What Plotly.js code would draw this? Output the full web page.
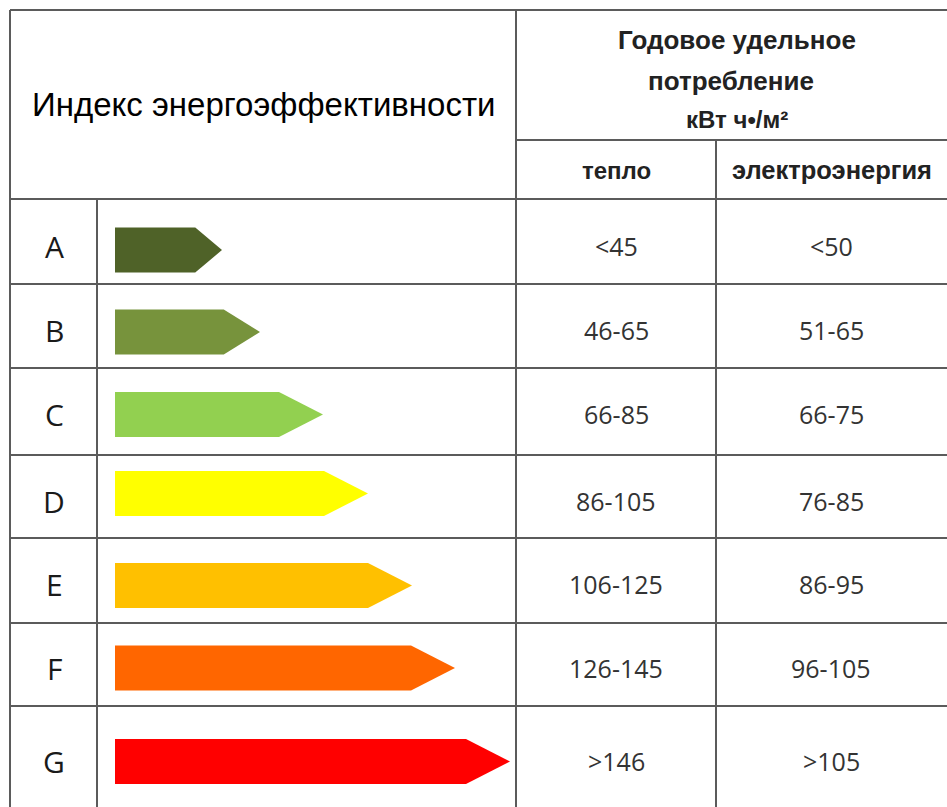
<!DOCTYPE html>
<html>
<head>
<meta charset="utf-8">
<script src="https://cdn.plot.ly/plotly-3.0.1.min.js"></script>
<style>html,body{margin:0;padding:0;background:#fff;} #chart{width:947px;height:807px;}</style>
</head>
<body>
<div id="chart"></div>
<script>
// ---- data ----
const classes = ['A', 'B', 'C', 'D', 'E', 'F', 'G'];
const heatRanges = ['&lt;45', '46-65', '66-85', '86-105', '106-125', '126-145', '&gt;146'];
const elecRanges = ['&lt;50', '51-65', '66-75', '76-85', '86-95', '96-105', '&gt;105'];
const arrowLengths = [107, 145, 208, 253, 297, 340, 395];
const headerLeft = 'Индекс энергоэффективности';
const headerRightLines = ['Годовое удельное', 'потребление', 'кВт ч•/м²'];
const subHeaders = ['тепло', 'электроэнергия'];

// ---- styles / layout constants ----
const classColors = ['#4f6228', '#77933c', '#92d050', '#ffff00', '#ffc000', '#ff6600', '#ff0000'];
const W = 947, H = 807;
const arrowY = [250, 332, 414.5, 493.5, 585.5, 668, 761.5];
const textY = [246, 330, 414, 501, 584, 668, 761];
const rowLines = [199, 284, 368, 455, 538, 623, 706];
const arrowX0 = 115, arrowHalf = 22.5;
const gridColor = '#5b5b5b';

const traces = classes.map((c, i) => {
  const L = arrowLengths[i];
  const h = Math.min(44, L * 0.25);
  const cy = arrowY[i];
  return {
    type: 'scatter', mode: 'lines', fill: 'toself',
    x: [arrowX0, arrowX0 + L - h, arrowX0 + L, arrowX0 + L - h, arrowX0, arrowX0],
    y: [cy - arrowHalf, cy - arrowHalf, cy, cy + arrowHalf, cy + arrowHalf, cy - arrowHalf],
    fillcolor: classColors[i], line: {width: 0, color: classColors[i]},
    hoverinfo: 'skip', showlegend: false, name: c
  };
});

const shapes = [];
function ln(x0, y0, x1, y1) {
  shapes.push({type: 'line', xref: 'x', yref: 'y', x0, y0, x1, y1, line: {color: gridColor, width: 2}});
}
ln(10, 10, W, 10);           // top
ln(10, 10, 10, H);           // left
ln(516, 10, 516, H);         // middle
ln(97, 199, 97, H);          // letter column
ln(716, 140, 716, H);        // heat / elec split
ln(516, 140, W, 140);        // under right header
rowLines.forEach(y => ln(10, y, W, y));

const annotations = [];
function txt(x, y, text, font) {
  annotations.push({xref: 'x', yref: 'y', x, y, text, showarrow: false, xanchor: 'center', yanchor: 'middle', font});
}
txt(263, 104, headerLeft, {family: 'Liberation Sans, Arial, sans-serif', size: 33, color: '#000'});
const hdrFont = {family: 'Liberation Sans, Arial, sans-serif', size: 26, color: '#222'};
txt(737, 40, '<b>' + headerRightLines[0] + '</b>', hdrFont);
txt(731, 81, '<b>' + headerRightLines[1] + '</b>', hdrFont);
txt(737, 119, '<b>' + headerRightLines[2] + '</b>', {family: 'Liberation Sans, Arial, sans-serif', size: 24, color: '#222'});
txt(616, 170, '<b>' + subHeaders[0] + '</b>', {family: 'Liberation Sans, Arial, sans-serif', size: 24, color: '#222'});
txt(832, 170, '<b>' + subHeaders[1] + '</b>', {family: 'Liberation Sans, Arial, sans-serif', size: 25.5, color: '#222'});

const letterFont = {family: 'Open Sans, sans-serif', size: 30, color: '#1a1a1a'};
const valFont = {family: 'Open Sans, sans-serif', size: 25, color: '#333'};
classes.forEach((c, i) => {
  txt(54, textY[i], c, letterFont);
  txt(616, textY[i], heatRanges[i], valFont);
  txt(831, textY[i], elecRanges[i], valFont);
});

const layout = {
  width: W, height: H,
  margin: {l: 0, r: 0, t: 0, b: 0},
  paper_bgcolor: '#ffffff', plot_bgcolor: '#ffffff',
  xaxis: {range: [0, W], visible: false, fixedrange: true},
  yaxis: {range: [H, 0], visible: false, fixedrange: true},
  shapes, annotations, showlegend: false
};
Plotly.newPlot('chart', traces, layout, {staticPlot: true, displayModeBar: false});
</script>
</body>
</html>
